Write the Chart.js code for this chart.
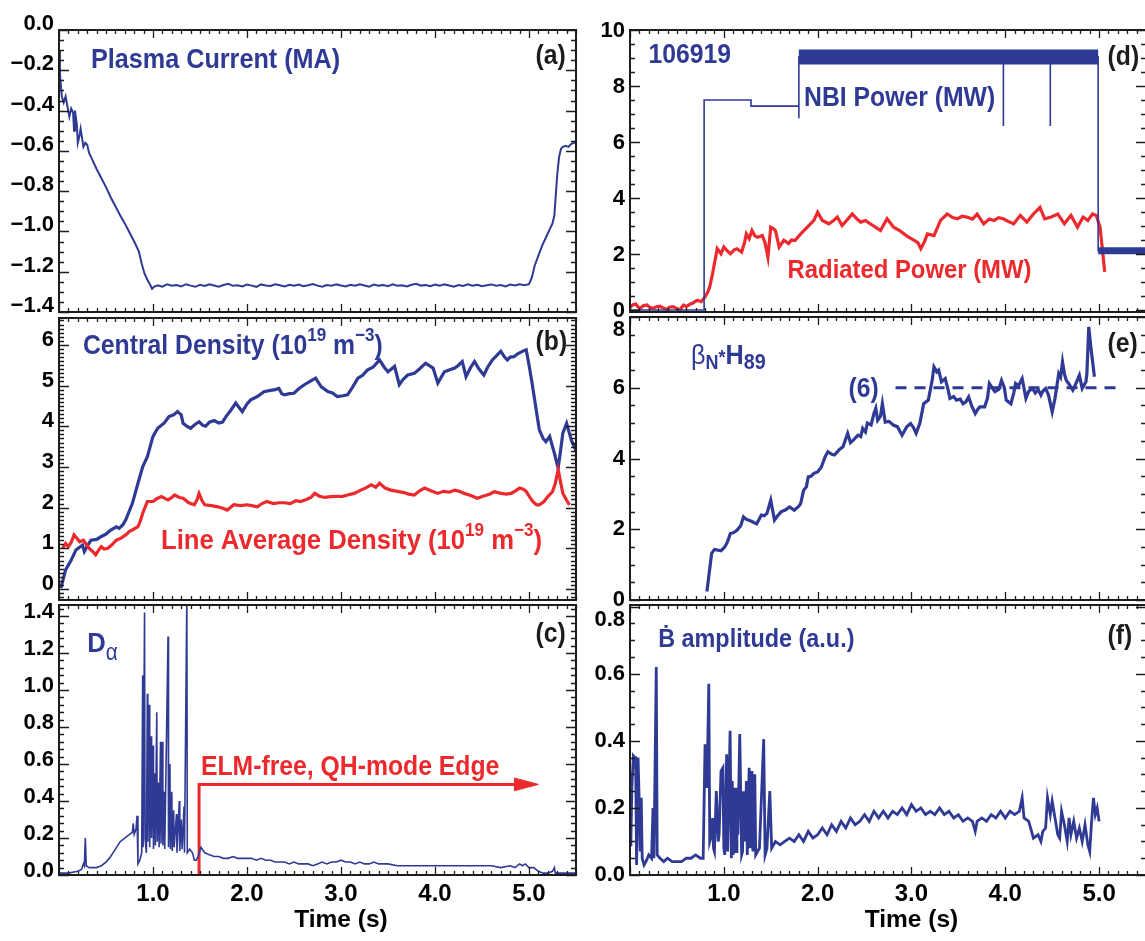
<!DOCTYPE html>
<html lang="en">
<head>
<meta charset="UTF-8">
<title>Shot 106919 time traces</title>
<script src="https://cdn.jsdelivr.net/npm/chart.js@4.4.1/dist/chart.umd.min.js"></script>
<style>
    body { margin: 0; background: #fff; width: 1145px; height: 941px; overflow: hidden; position: relative; }
    canvas { position: absolute; }
</style>
</head>
<body>
<canvas id="cA" width="580" height="330" style="left:0;top:0"></canvas>
<canvas id="cD" width="566" height="330" style="left:580px;top:0"></canvas>
<canvas id="cB" width="580" height="330" style="left:0;top:290px"></canvas>
<canvas id="cE" width="566" height="330" style="left:580px;top:290px"></canvas>
<canvas id="cC" width="580" height="356" style="left:0;top:585px"></canvas>
<canvas id="cF" width="566" height="356" style="left:580px;top:585px"></canvas>
<script>
// ---- data (time in s) ----
const timeTicks = [1, 2, 3, 4, 5];

// (a) plasma current, MA
const ipTicks = [0, -0.2, -0.4, -0.6, -0.8, -1.0, -1.2, -1.4];
const ipT = [0.00,0.01,0.03,0.05,0.07,0.09,0.11,0.13,0.15,0.16,
    0.17,0.19,0.20,0.22,0.23,0.25,0.26,0.28,0.30,0.32,
    0.35,0.40,0.45,0.50,0.55,0.60,0.65,0.70,0.75,0.80,
    0.85,0.88,0.91,0.94,0.97,0.99,1.01,
    1.05,1.10,1.15,1.20,1.25,1.30,1.35,1.40,1.45,1.50,
    1.55,1.60,1.65,1.70,1.75,1.80,1.85,1.90,1.95,2.00,
    2.05,2.10,2.15,2.20,2.25,2.30,2.35,2.40,2.45,2.50,
    2.55,2.60,2.65,2.70,2.75,2.80,2.85,2.90,2.95,3.00,
    3.05,3.10,3.15,3.20,3.25,3.30,3.35,3.40,3.45,3.50,
    3.55,3.60,3.65,3.70,3.75,3.80,3.85,3.90,3.95,4.00,
    4.05,4.10,4.15,4.20,4.25,4.30,4.35,4.40,4.45,4.50,
    4.55,4.60,4.65,4.70,4.75,4.80,4.85,4.90,4.95,
    5.00,5.03,5.06,5.10,5.14,5.18,5.22,5.25,5.27,5.30,
    5.32,5.34,5.36,5.39,5.42,5.45,5.48,5.50];
const ipV = [-0.10,-0.22,-0.33,-0.36,-0.33,-0.38,-0.43,-0.39,-0.41,-0.50,
    -0.40,-0.47,-0.56,-0.52,-0.49,-0.55,-0.58,-0.56,-0.57,-0.61,
    -0.64,-0.69,-0.735,-0.78,-0.83,-0.875,-0.92,-0.96,-1.005,-1.05,
    -1.10,-1.16,-1.21,-1.24,-1.265,-1.285,-1.275,
    -1.268,-1.274,-1.263,-1.270,-1.266,-1.273,-1.262,-1.269,-1.275,-1.265,
    -1.271,-1.262,-1.268,-1.274,-1.266,-1.260,-1.270,-1.267,-1.273,-1.264,
    -1.269,-1.275,-1.263,-1.268,-1.271,-1.262,-1.267,-1.273,-1.265,-1.270,
    -1.264,-1.272,-1.267,-1.261,-1.269,-1.274,-1.266,-1.270,-1.263,-1.268,
    -1.273,-1.265,-1.270,-1.262,-1.268,-1.274,-1.264,-1.269,-1.266,-1.272,
    -1.263,-1.270,-1.267,-1.273,-1.265,-1.260,-1.269,-1.266,-1.272,-1.264,
    -1.270,-1.263,-1.268,-1.274,-1.266,-1.271,-1.262,-1.269,-1.265,-1.272,
    -1.267,-1.263,-1.270,-1.266,-1.273,-1.264,-1.268,-1.262,-1.267,
    -1.262,-1.23,-1.17,-1.12,-1.07,-1.03,-0.99,-0.96,-0.92,-0.72,
    -0.63,-0.59,-0.58,-0.575,-0.58,-0.565,-0.56,-0.55];

// (b) central and line average density, 10^19 m^-3
const neTicks = [0, 1, 2, 3, 4, 5, 6];
const neT = [0.02,0.07,0.13,0.18,0.25,0.27,0.30,0.34,0.40,0.45,
    0.50,0.55,0.61,0.64,0.68,0.71,0.78,0.84,0.89,0.94,
    1.00,1.05,1.12,1.17,1.22,1.26,1.30,1.32,1.36,1.40,
    1.45,1.49,1.53,1.56,1.60,1.65,1.70,1.74,1.78,1.83,
    1.88,1.92,1.95,2.00,2.04,2.11,2.18,2.25,2.30,2.34,
    2.37,2.40,2.45,2.50,2.55,2.61,2.67,2.73,2.79,2.86,
    2.91,2.96,3.02,3.07,3.12,3.18,3.23,3.28,3.34,3.41,
    3.46,3.50,3.57,3.62,3.66,3.71,3.78,3.84,3.90,3.98,
    4.03,4.10,4.15,4.21,4.25,4.29,4.33,4.38,4.42,4.47,
    4.52,4.56,4.61,4.66,4.70,4.74,4.77,4.80,4.84,4.88,
    4.93,4.97,5.00,5.03,5.06,5.09,5.11,5.15,5.18,5.22,
    5.25,5.27,5.31,5.33,5.36,5.40,5.45,5.50,5.52];
const neV = [0.02,0.47,0.71,0.96,1.08,0.92,1.05,1.20,1.22,1.29,
    1.35,1.45,1.53,1.49,1.58,1.70,2.10,2.60,3.00,3.25,
    3.75,3.95,4.08,4.24,4.28,4.36,4.28,4.07,4.00,3.95,
    4.05,4.11,4.02,4.00,4.10,4.14,4.08,4.10,4.25,4.40,
    4.57,4.45,4.36,4.55,4.65,4.73,4.85,4.88,4.90,4.93,
    4.80,4.77,4.80,4.81,4.92,5.02,5.10,5.18,4.97,4.85,
    4.82,4.73,4.75,4.77,4.95,5.18,5.25,5.38,5.45,5.63,
    5.45,5.34,5.47,5.02,5.15,5.26,5.30,5.42,5.55,5.43,
    5.06,5.34,5.38,5.43,5.50,5.59,5.22,5.45,5.59,5.40,
    5.26,5.45,5.63,5.75,5.84,5.70,5.63,5.70,5.71,5.78,
    5.84,5.88,5.51,5.10,4.65,4.20,3.91,3.70,3.62,3.75,
    3.50,3.34,2.97,3.30,3.83,4.07,3.66,3.40,3.34];
const nlT = [0.04,0.07,0.10,0.13,0.16,0.19,0.22,0.26,0.29,0.32,
    0.36,0.39,0.42,0.45,0.48,0.52,0.56,0.61,0.66,0.71,
    0.75,0.78,0.84,0.87,0.89,0.94,1.00,1.04,1.09,1.13,
    1.16,1.20,1.23,1.28,1.32,1.38,1.44,1.47,1.49,1.52,
    1.55,1.62,1.69,1.75,1.79,1.86,1.93,2.00,2.05,2.11,
    2.16,2.21,2.28,2.34,2.40,2.46,2.52,2.57,2.63,2.68,
    2.72,2.77,2.83,2.89,2.95,3.01,3.07,3.14,3.21,3.26,
    3.32,3.37,3.41,3.47,3.53,3.60,3.67,3.72,3.78,3.84,
    3.89,3.95,4.03,4.09,4.15,4.21,4.26,4.31,4.38,4.45,
    4.51,4.58,4.63,4.70,4.76,4.81,4.86,4.90,4.94,4.97,
    5.01,5.04,5.08,5.11,5.16,5.20,5.25,5.28,5.31,5.33,
    5.36,5.40,5.43];
const nlV = [1.00,1.12,1.04,1.15,1.33,1.25,1.16,1.20,1.10,1.00,
    0.92,0.84,0.95,1.04,0.98,1.00,1.08,1.20,1.25,1.33,
    1.42,1.45,1.53,1.70,1.86,2.15,2.15,2.22,2.27,2.22,
    2.19,2.25,2.31,2.25,2.23,2.12,2.07,2.20,2.35,2.18,
    2.07,2.05,2.02,1.98,1.94,2.07,2.05,2.07,2.05,2.02,
    2.10,2.15,2.10,2.12,2.12,2.10,2.17,2.15,2.20,2.25,
    2.35,2.28,2.25,2.27,2.28,2.27,2.31,2.35,2.43,2.48,
    2.56,2.50,2.60,2.48,2.43,2.40,2.37,2.33,2.31,2.42,
    2.48,2.42,2.35,2.40,2.38,2.43,2.40,2.35,2.30,2.23,
    2.28,2.33,2.39,2.35,2.33,2.35,2.42,2.48,2.45,2.40,
    2.25,2.15,2.07,2.07,2.15,2.27,2.39,2.60,2.93,2.70,
    2.35,2.18,2.07];

// (c) D-alpha, a.u.
const daTicks = [0, 0.2, 0.4, 0.6, 0.8, 1.0, 1.2, 1.4];
const daT = [0.00,0.10,0.20,0.24,0.26,0.27,0.28,0.29,0.32,0.40,
    0.45,0.50,0.55,0.60,0.65,0.70,0.75,0.78,0.79,0.80,
    0.82,0.83,0.84,0.86,0.88,0.89,0.895,0.91,0.915,0.93,
    0.94,0.945,0.96,0.965,0.98,0.985,1.00,1.005,1.02,1.025,
    1.04,1.045,1.06,1.065,1.08,1.085,1.10,1.105,1.12,1.125,
    1.16,1.165,1.18,1.185,1.20,1.205,1.22,1.225,1.25,1.255,
    1.28,1.285,1.30,1.31,1.33,1.335,1.36,1.365,1.39,1.42,
    1.44,1.46,1.48,1.51,1.55,1.60,1.65,1.70,1.75,1.80,
    1.85,1.90,1.95,2.00,2.05,2.10,2.15,2.20,2.25,2.30,
    2.35,2.40,2.45,2.50,2.55,2.60,2.65,2.70,2.75,2.80,
    2.85,2.90,2.95,3.00,3.05,3.10,3.15,3.20,3.25,3.30,
    3.35,3.40,3.50,3.60,3.70,3.80,3.90,4.00,4.10,4.20,
    4.30,4.40,4.50,4.60,4.70,4.80,4.85,4.90,4.93,4.96,
    5.00,5.05,5.10,5.15,5.20,5.25,5.27,5.28,5.35,5.45,
    5.50];
const daV = [0.01,0.01,0.02,0.03,0.06,0.05,0.20,0.05,0.04,0.04,
    0.05,0.07,0.10,0.14,0.18,0.20,0.22,0.23,0.28,0.22,
    0.25,0.32,0.06,0.08,0.12,1.08,0.15,1.42,0.20,0.12,
    0.98,0.18,0.92,0.15,0.75,0.20,0.70,0.14,0.55,0.16,
    0.88,0.18,0.50,0.15,0.72,0.17,0.72,0.16,0.45,0.14,
    1.29,0.15,0.60,0.14,0.45,0.13,0.35,0.15,0.33,0.12,
    0.40,0.13,0.30,0.14,0.37,0.12,1.50,0.12,0.14,0.12,
    0.08,0.08,0.10,0.15,0.12,0.11,0.10,0.10,0.09,0.09,
    0.10,0.09,0.09,0.09,0.09,0.08,0.09,0.08,0.08,0.07,
    0.07,0.07,0.06,0.07,0.06,0.06,0.06,0.05,0.06,0.07,
    0.06,0.07,0.07,0.08,0.07,0.07,0.06,0.07,0.06,0.06,
    0.07,0.06,0.06,0.05,0.05,0.05,0.05,0.05,0.05,0.05,
    0.05,0.05,0.05,0.05,0.04,0.05,0.04,0.06,0.05,0.06,
    0.04,0.04,0.02,0.01,0.01,0.02,0.04,0.01,0.01,0.01,
    0.01];
const elmT = [1.49, 1.49, 4.86];
const elmV = [0, 0.49, 0.49];
const elmHeadT = [4.84, 5.10, 4.84];
const elmHeadV = [0.455, 0.49, 0.525];

// (d) NBI and radiated power, MW
const pwTicks = [0, 2, 4, 6, 8, 10];
const nbiT = [0, 0.79, 0.79, 1.29, 1.29, 1.80, 1.80, 1.80, 4.99, 4.99, 5.50];
const nbiV = [0, 0, 7.5, 7.5, 7.28, 7.28, 6.85, 9.04, 9.04, 2.12, 2.12];
const nbiBandT = [1.80, 4.99];
const nbiBandV = [9.04, 9.04];
const nbiTailT = [4.99, 5.50];
const nbiTailV = [2.12, 2.12];
const nbiNotchT = [3.98, 3.98, 4.23, 4.48, 4.48];
const nbiNotchV = [8.8, 6.57, null, 8.8, 6.57];
const radT = [0.00,0.03,0.06,0.09,0.11,0.14,0.18,0.21,0.25,0.28,
    0.32,0.35,0.39,0.42,0.46,0.50,0.53,0.57,0.60,0.64,
    0.67,0.69,0.72,0.76,0.80,0.83,0.85,0.88,0.90,0.93,
    0.97,1.00,1.04,1.07,1.11,1.14,1.19,1.22,1.24,1.27,
    1.30,1.33,1.36,1.41,1.44,1.47,1.50,1.53,1.55,1.59,
    1.64,1.69,1.72,1.76,1.82,1.89,1.96,2.00,2.05,2.12,
    2.17,2.21,2.26,2.31,2.37,2.42,2.46,2.51,2.56,2.62,
    2.67,2.74,2.81,2.87,2.92,2.97,3.03,3.07,3.10,3.14,
    3.17,3.24,3.31,3.38,3.44,3.49,3.54,3.59,3.65,3.70,
    3.77,3.83,3.88,3.93,3.98,4.04,4.09,4.16,4.23,4.30,
    4.37,4.42,4.49,4.56,4.63,4.70,4.77,4.83,4.88,4.93,
    4.97,5.01,5.04,5.06];
const radV = [0.10,0.18,0.22,0.10,0.06,0.15,0.18,0.10,0.06,0.12,
    0.14,0.08,0.02,0.10,0.12,0.05,0.00,0.18,0.12,0.21,
    0.25,0.30,0.35,0.30,0.47,0.65,0.83,1.30,1.66,2.19,
    2.01,2.25,2.10,2.01,2.15,2.19,2.07,2.40,2.72,2.55,
    2.84,2.65,2.60,2.66,2.40,1.89,2.96,2.90,2.84,2.25,
    2.49,2.37,2.50,2.49,2.72,2.96,3.20,3.49,3.20,3.08,
    3.20,3.32,3.02,3.20,3.43,3.25,3.14,3.20,3.08,2.95,
    2.84,3.26,2.96,2.85,2.72,2.60,2.49,2.40,2.19,2.45,
    2.72,2.66,3.20,3.43,3.30,3.26,3.35,3.32,3.25,3.43,
    3.08,3.25,3.20,3.30,3.26,3.15,3.08,3.38,3.14,3.43,
    3.67,3.26,3.32,3.43,3.08,3.38,2.96,3.32,3.20,3.43,
    3.38,2.96,2.01,1.36];

// (e) beta_N * H89
const bnTicks = [0, 2, 4, 6, 8];
const bnT = [0.82,0.87,0.90,0.97,1.01,1.04,1.07,1.10,1.14,1.18,
    1.21,1.24,1.26,1.30,1.35,1.40,1.43,1.46,1.50,1.54,
    1.58,1.61,1.66,1.70,1.75,1.80,1.82,1.85,1.88,1.90,
    1.93,1.96,2.00,2.04,2.08,2.11,2.15,2.18,2.23,2.27,
    2.32,2.35,2.38,2.43,2.46,2.48,2.51,2.53,2.57,2.60,
    2.62,2.64,2.67,2.69,2.72,2.76,2.81,2.85,2.90,2.95,
    2.99,3.02,3.05,3.09,3.13,3.18,3.22,3.24,3.27,3.29,
    3.32,3.36,3.39,3.41,3.45,3.48,3.52,3.55,3.58,3.61,
    3.64,3.68,3.71,3.73,3.78,3.81,3.83,3.86,3.89,3.93,
    3.96,3.99,4.01,4.06,4.09,4.11,4.14,4.18,4.22,4.25,
    4.29,4.32,4.35,4.38,4.40,4.43,4.46,4.50,4.53,4.57,
    4.59,4.61,4.63,4.65,4.68,4.72,4.75,4.79,4.82,4.86,
    4.87,4.89,4.91,4.95];
const bnV = [0.24,1.32,1.43,1.39,1.50,1.65,1.88,1.90,1.97,2.10,
    2.35,2.28,2.26,2.22,2.15,2.40,2.38,2.45,2.82,2.26,
    2.40,2.49,2.55,2.63,2.54,2.65,2.73,3.10,3.20,3.48,
    3.50,3.58,3.62,3.76,4.05,4.19,4.12,4.10,4.25,4.33,
    4.71,4.45,4.52,4.66,4.62,4.85,4.75,5.00,4.95,5.27,
    5.42,5.08,5.20,5.55,5.03,5.05,4.94,4.90,4.66,4.90,
    4.99,4.88,4.71,5.00,5.55,5.65,6.20,6.59,6.45,6.50,
    6.17,6.26,5.95,5.70,5.75,5.65,5.68,5.55,5.60,5.74,
    5.50,5.27,5.40,5.46,5.46,5.70,6.12,6.00,5.89,5.95,
    6.21,6.00,5.65,5.55,5.85,6.12,6.05,6.26,5.70,5.90,
    5.98,5.85,5.95,5.79,5.90,5.98,5.80,5.32,5.70,6.40,
    6.30,6.73,6.40,6.21,6.10,5.93,6.10,6.35,5.98,6.17,
    6.40,7.72,7.20,6.31];
const bnRefT = [2.83, 5.26];
const bnRefV = [6, 6];

// (f) B-dot amplitude, a.u.
const bdTicks = [0, 0.2, 0.4, 0.6, 0.8];
const bdT = [0.00,0.01,0.02,0.036,0.05,0.06,0.07,0.075,0.086,0.10,
    0.11,0.12,0.13,0.15,0.17,0.20,0.23,0.245,0.255,0.28,
    0.29,0.32,0.36,0.40,0.45,0.50,0.55,0.60,0.65,0.70,
    0.75,0.78,0.80,0.81,0.82,0.84,0.85,0.87,0.88,0.89,
    0.90,0.92,0.94,0.95,0.97,0.99,1.00,1.01,1.03,1.04,
    1.067,1.08,1.09,1.10,1.11,1.13,1.14,1.15,1.17,1.19,
    1.20,1.21,1.23,1.24,1.25,1.27,1.28,1.30,1.31,1.33,
    1.34,1.36,1.38,1.425,1.44,1.46,1.49,1.51,1.55,1.60,
    1.65,1.70,1.75,1.80,1.85,1.90,1.95,2.00,2.05,2.10,
    2.15,2.20,2.25,2.30,2.35,2.40,2.45,2.50,2.55,2.60,
    2.65,2.70,2.75,2.80,2.85,2.90,2.95,3.00,3.05,3.10,
    3.15,3.20,3.25,3.30,3.35,3.40,3.45,3.50,3.55,3.60,
    3.65,3.68,3.70,3.75,3.80,3.85,3.90,3.95,4.00,4.05,
    4.10,4.15,4.18,4.20,4.25,4.28,4.30,4.35,4.38,4.40,
    4.43,4.45,4.48,4.50,4.53,4.56,4.58,4.60,4.63,4.66,
    4.68,4.70,4.73,4.76,4.79,4.82,4.85,4.88,4.90,4.92,
    4.94,4.96,4.98,5.00];
const bdV = [0.09,0.11,0.26,0.355,0.35,0.35,0.03,0.10,0.35,0.20,
    0.07,0.23,0.05,0.03,0.04,0.06,0.05,0.20,0.05,0.62,
    0.06,0.05,0.04,0.05,0.04,0.04,0.04,0.05,0.05,0.06,
    0.05,0.05,0.39,0.30,0.26,0.57,0.10,0.12,0.17,0.08,
    0.07,0.25,0.10,0.12,0.31,0.32,0.08,0.06,0.36,0.07,
    0.43,0.05,0.28,0.06,0.26,0.07,0.26,0.12,0.42,0.06,
    0.07,0.25,0.10,0.28,0.06,0.32,0.08,0.31,0.07,0.30,
    0.06,0.07,0.08,0.405,0.06,0.08,0.25,0.08,0.10,0.09,
    0.10,0.11,0.10,0.12,0.10,0.13,0.11,0.12,0.14,0.12,
    0.15,0.13,0.16,0.14,0.17,0.15,0.16,0.18,0.16,0.19,
    0.17,0.19,0.17,0.19,0.18,0.20,0.18,0.21,0.19,0.20,
    0.18,0.19,0.18,0.20,0.18,0.19,0.17,0.18,0.16,0.17,
    0.16,0.13,0.16,0.17,0.16,0.18,0.17,0.19,0.17,0.19,
    0.18,0.19,0.23,0.17,0.16,0.13,0.11,0.12,0.10,0.13,
    0.14,0.23,0.18,0.22,0.17,0.12,0.11,0.19,0.15,0.10,
    0.17,0.12,0.16,0.11,0.14,0.10,0.15,0.09,0.07,0.16,
    0.23,0.18,0.20,0.16];

// ---- styling ----
const FONT = "'Liberation Sans', Arial, Helvetica, sans-serif";
const BLUE = '#2f3a95';
const RED = '#ec2a2e';
const INK = '#1c1c1c';
const NARROW = 0.9;   // in-plot labels are a slightly condensed bold face

function series(ts, vs) {
    return ts.map((t, i) => ({ x: t, y: vs[i] }));
}

function line(ts, vs, color, width, extra) {
    return Object.assign({
        data: series(ts, vs), borderColor: color, backgroundColor: color,
        borderWidth: width, pointRadius: 0, tension: 0, fill: false, spanGaps: false
    }, extra || {});
}

// box around each panel with inward ticks on all four sides
const frame = {
    id: 'frame',
    afterDatasetsDraw(chart, args, o) {
        const { ctx, chartArea: a, scales: { x, y } } = chart;
        ctx.save();
        ctx.strokeStyle = INK;
        ctx.lineWidth = 1.3;
        ctx.beginPath();
        for (let i = 0; i <= 55; i++) {
            const px = Math.round(x.getPixelForValue(i / 10)) + 0.5;
            const len = i % 10 === 0 ? 8 : 4;
            ctx.moveTo(px, a.bottom); ctx.lineTo(px, a.bottom - len);
            ctx.moveTo(px, a.top); ctx.lineTo(px, a.top + len);
        }
        const k0 = Math.ceil(y.min / o.minor - 1e-6), k1 = Math.floor(y.max / o.minor + 1e-6);
        for (let k = k0; k <= k1; k++) {
            const v = k * o.minor;
            const major = Math.abs(v / o.major - Math.round(v / o.major)) < 1e-6;
            const py = Math.round(y.getPixelForValue(v)) + 0.5;
            const len = major ? 10 : 5;
            ctx.moveTo(a.left, py); ctx.lineTo(a.left + len, py);
            ctx.moveTo(a.right, py); ctx.lineTo(a.right - len, py);
        }
        ctx.stroke();
        ctx.lineWidth = 2;
        ctx.strokeRect(a.left, a.top, a.right - a.left, a.bottom - a.top);
        ctx.restore();
    }
};

// in-plot labels, placed in data coordinates; parts = [text, size, dy, weight]
const notes = {
    id: 'notes',
    afterDraw(chart, args, o) {
        const { ctx, scales: { x, y } } = chart;
        (o.items || []).forEach(it => {
            const sx = it.sx || NARROW;
            const font = p => `${p[3] || 'bold'} ${p[1]}px ${FONT}`;
            ctx.save();
            ctx.fillStyle = it.color || INK;
            ctx.textBaseline = 'middle';
            ctx.textAlign = 'left';
            let w = 0;
            it.parts.forEach(p => { ctx.font = font(p); w += ctx.measureText(p[0]).width; });
            let px = x.getPixelForValue(it.t) - (it.center ? w * sx / 2 : 0);
            ctx.translate(px, y.getPixelForValue(it.v));
            ctx.scale(sx, 1);
            let cx = 0;
            it.parts.forEach(p => {
                ctx.font = font(p);
                ctx.fillText(p[0], cx, p[2] || 0);
                cx += ctx.measureText(p[0]).width;
            });
            ctx.restore();
        });
    }
};

function panel(id, c) {
    const tickFont = { family: FONT, size: 22, weight: 'bold' };
    return new Chart(document.getElementById(id), {
        type: 'line',
        data: { datasets: c.datasets },
        options: {
            responsive: false,
            animation: false,
            events: [],
            layout: { padding: { top: c.padTop, right: c.padRight, left: 0, bottom: 0 } },
            plugins: {
                legend: { display: false },
                tooltip: { enabled: false },
                frame: { major: c.major, minor: c.minor },
                notes: { items: c.notes }
            },
            scales: {
                x: {
                    type: 'linear', min: 0, max: 5.5,
                    grid: { display: false, drawTicks: false },
                    border: { display: false },
                    ticks: {
                        display: !!c.xLabels, autoSkip: false, padding: 5, color: '#000',
                        font: { family: FONT, size: 24, weight: 'bold' },
                        callback: v => v.toFixed(1)
                    },
                    afterBuildTicks: s => { s.ticks = timeTicks.map(v => ({ value: v })); },
                    afterFit: s => { s.height = c.xh; s.paddingLeft = 0; s.paddingRight = 0; }
                },
                y: {
                    type: 'linear', min: c.min, max: c.max,
                    grid: { display: false, drawTicks: false },
                    border: { display: false },
                    ticks: {
                        autoSkip: false, padding: 5, color: '#000', font: tickFont,
                        labelOffset: c.labelOffset || 0, callback: c.fmt
                    },
                    afterBuildTicks: s => { s.ticks = c.ticks.map(v => ({ value: v })); },
                    afterFit: s => { s.width = c.yw; s.paddingTop = 0; s.paddingBottom = 0; }
                }
            }
        },
        plugins: [frame, notes]
    });
}

const sup = (t) => [t, 19, -10];
const timeTitle = v => ({ t: 3.0, v: v, center: true, sx: 1, color: '#000', parts: [['Time (s)', 24.5]] });

panel('cA', {
    padTop: 30, padRight: 4, xh: 18, yw: 59, min: -1.4, max: 0,
    ticks: ipTicks, major: 0.2, minor: 0.05, labelOffset: -6,
    fmt: v => (Math.abs(v) < 1e-9 ? '0.0' : '\u2212' + Math.abs(v).toFixed(1)),
    datasets: [line(ipT, ipV, BLUE, 2)],
    notes: [
        { t: 0.34, v: -0.148, color: BLUE, parts: [['Plasma Current (MA)', 28]] },
        { t: 5.07, v: -0.129, parts: [['(a)', 27.5]] }
    ]
});

panel('cB', {
    padTop: 28, padRight: 4, xh: 20, yw: 59, min: -0.27, max: 6.66,
    ticks: neTicks, major: 1, minor: 0.1, labelOffset: -5,
    fmt: v => String(v),
    datasets: [line(nlT, nlV, RED, 3.2), line(neT, neV, BLUE, 3.2)],
    notes: [
        { t: 0.255, v: 5.97, color: BLUE, parts: [['Central Density (10', 27.5], sup('19'), [' m', 27.5], sup('\u22123'), [')', 27.5]] },
        { t: 1.085, v: 1.18, color: RED, parts: [['Line Average Density (10', 28.5], sup('19'), [' m', 28.5], sup('\u22123'), [')', 28.5]] },
        { t: 5.07, v: 6.05, parts: [['(b)', 27.5]] }
    ]
});

panel('cC', {
    padTop: 20, padRight: 4, xh: 66, yw: 59, min: 0, max: 1.46, xLabels: true,
    ticks: daTicks, major: 0.2, minor: 0.04, labelOffset: -4,
    fmt: v => v.toFixed(1),
    datasets: [
        line(daT, daV, BLUE, 1.6),
        line(elmT, elmV, RED, 3),
        line(elmHeadT, elmHeadV, RED, 1, { fill: 'shape' })
    ],
    notes: [
        { t: 0.30, v: 1.25, color: BLUE, parts: [['D', 28.5], ['\u03b1', 23, 10, 'normal']] },
        { t: 1.51, v: 0.58, color: RED, parts: [['ELM-free, QH-mode Edge', 27.5]] },
        { t: 5.07, v: 1.30, parts: [['(c)', 27.5]] },
        timeTitle(-0.243)
    ]
});

panel('cD', {
    padTop: 30, padRight: 0, xh: 18, yw: 50, min: -0.07, max: 10,
    ticks: pwTicks, major: 2, minor: 0.5, labelOffset: 1,
    fmt: v => String(v),
    datasets: [
        line(nbiT, nbiV, BLUE, 1.6),
        line(nbiBandT, nbiBandV, BLUE, 15),
        line(nbiTailT, nbiTailV, BLUE, 7),
        line(nbiNotchT, nbiNotchV, BLUE, 1.6),
        line(radT, radV, RED, 3.2)
    ],
    notes: [
        { t: 0.196, v: 9.09, color: BLUE, parts: [['106919', 27.5]] },
        { t: 1.855, v: 7.57, color: BLUE, parts: [['NBI Power (MW)', 27.5]] },
        { t: 1.68, v: 1.42, color: RED, parts: [['Radiated Power (MW)', 26.5]] },
        { t: 5.09, v: 9.02, parts: [['(d)', 27.5]] }
    ]
});

panel('cE', {
    padTop: 27, padRight: 0, xh: 20, yw: 50, min: 0, max: 8,
    ticks: bnTicks, major: 2, minor: 0.5, labelOffset: 0,
    fmt: v => (v === 8 ? ['', '8'] : String(v)),
    datasets: [
        line(bnRefT, bnRefV, BLUE, 3, { borderDash: [11, 8] }),
        line(bnT, bnV, BLUE, 3.2)
    ],
    notes: [
        { t: 0.65, v: 6.89, color: BLUE, parts: [['\u03b2', 28, 0, 'normal'], ['N', 20, 7], ['*', 20, 2], ['H', 28], ['89', 22, 7]] },
        { t: 2.33, v: 5.96, color: BLUE, parts: [['(6)', 27.5]] },
        { t: 5.09, v: 7.23, parts: [['(e)', 27.5]] }
    ]
});

panel('cF', {
    padTop: 20, padRight: 0, xh: 66, yw: 50, min: 0, max: 0.805, xLabels: true,
    ticks: bdTicks, major: 0.2, minor: 0.05, labelOffset: 0,
    fmt: v => (Math.abs(v - 0.8) < 1e-9 ? ['', '0.8'] : v.toFixed(1)),
    datasets: [line(bdT, bdV, BLUE, 2.8)],
    notes: [
        { t: 0.30, v: 0.70, color: BLUE, parts: [['\u1e02 amplitude (a.u.)', 26]] },
        { t: 5.09, v: 0.71, parts: [['(f)', 27.5]] },
        timeTitle(-0.134)
    ]
});
</script>
</body>
</html>
